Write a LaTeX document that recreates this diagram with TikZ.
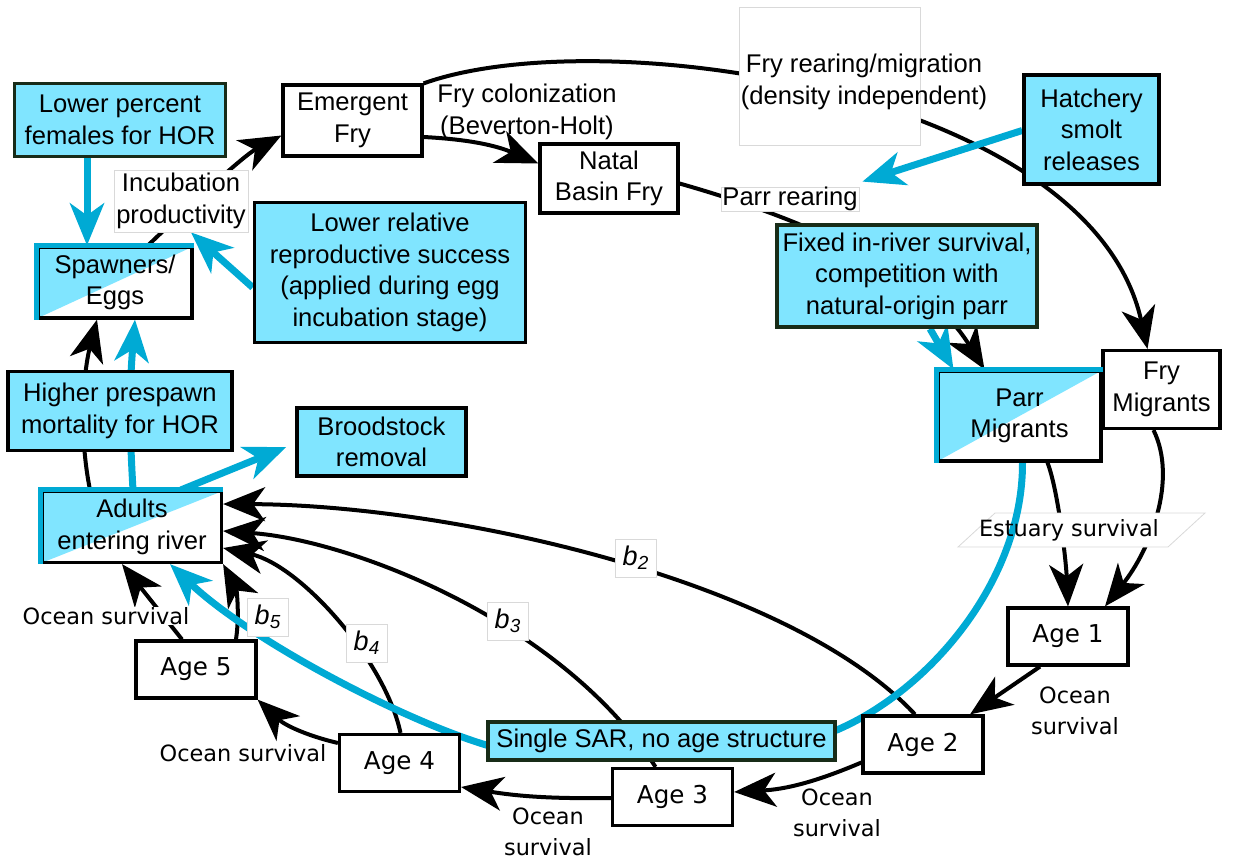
\documentclass[tikz,border=0pt]{standalone}
\usepackage{fontspec}
\setmainfont{Liberation Sans}
\newfontfamily\agefont{DejaVu Sans}
\usetikzlibrary{arrows.meta,calc}
\definecolor{boxcyan}{RGB}{128,229,255}
\definecolor{linecyan}{RGB}{0,170,212}
\definecolor{boxedge}{RGB}{24,44,24}
\pgfdeclarelayer{bg}
\pgfdeclarelayer{mid}
\pgfsetlayers{bg,mid,main}

\begin{document}
\begin{tikzpicture}[x=0.5pt,y=-0.5pt,>={Stealth[length=21pt,width=17pt,inset=6pt]},
        every node/.style={font=\fontsize{12.8}{15.8}\selectfont,align=center,inner sep=0pt},
        wbox/.style={draw,line width=1.6pt,fill=white},
        cbox/.style={draw=boxedge,line width=1.8pt,fill=boxcyan},
        hbox/.style={wbox,path picture={\fill[boxcyan] (path picture bounding box.north west)
            -- (path picture bounding box.north east) -- (path picture bounding box.south west) -- cycle;}},
        agebox/.style={wbox,minimum width=60pt,minimum height=28.5pt,font=\agefont\fontsize{12.3}{15}\selectfont},
        lab/.style={draw=black!15,line width=0.4pt,fill=white},
        oc/.style={font=\agefont\fontsize{11.2}{15.5}\selectfont},
        bl/.style={lab,inner sep=3.5pt,font=\fontsize{13.5}{15}\selectfont\itshape},
        flow/.style={->,line width=2pt},
        hflow/.style={->,line width=3.5pt,draw=linecyan},
        hedge/.style={line width=2.5pt,draw=linecyan}]
      \useasboundingbox (0,0) rectangle (1238,858);
      % freshwater part
      \node[cbox,minimum width=105.5pt,minimum height=36.5pt] (lowpct) at (120,120) {Lower percent\\females for HOR};
      \node[wbox,minimum width=69.5pt,minimum height=35.5pt] (emfry) at (352.5,120.5) {Emergent\\Fry};
      \node[wbox,minimum width=69pt,minimum height=34.5pt] (natal) at (609,178.5) {Natal\\Basin Fry};
      \node (frycol) at (527,112) {Fry colonization\\(Beverton-Holt)};
      \node[lab,minimum width=90.5pt,minimum height=69pt] (fryrear) at (829.5,76) {};
      \node (fryreartxt) at (864,82) {Fry rearing/migration\\(density independent)};
      \node[cbox,draw=black,minimum width=67.5pt,minimum height=54.5pt] (hatch) at (1091.5,129.5) {Hatchery\\smolt\\releases};
      \node[lab,minimum width=67pt,minimum height=31pt] (incub) at (181,201) {Incubation\\productivity};
      \node[cbox,draw=black,minimum width=135.5pt,minimum height=70pt] (lowrrs) at (390,272.5)
        {Lower relative\\reproductive success\\(applied during egg\\incubation stage)};
      \node[hbox,minimum width=77pt,minimum height=35.5pt] (spawn) at (115,282.5) {Spawners/\\Eggs};
      \node[lab,minimum width=69pt,minimum height=12pt] (parrrear) at (790,199) {Parr rearing};
      \node[cbox,minimum width=130pt,minimum height=51pt] (fixed) at (907,276)
        {Fixed in-river survival,\\competition with\\natural-origin parr};
      \node[hbox,minimum width=81.5pt,minimum height=45pt] (parrmig) at (1019.5,416) {Parr\\Migrants};
      \node[wbox,minimum width=58.5pt,minimum height=39pt] (frymig) at (1161.5,389.5) {Fry\\Migrants};
      \node[cbox,draw=black,minimum width=112pt,minimum height=39.5pt] (prespawn) at (120,411) {Higher prespawn\\mortality for HOR};
      \node[cbox,draw=black,minimum width=84.5pt,minimum height=34pt] (brood) at (381.5,442) {Broodstock\\removal};
      \node[hbox,minimum width=89.5pt,minimum height=35.5pt] (adults) at (132,527) {Adults\\entering river};
      \node[oc] (est) at (1069,530) {Estuary survival};
      % ocean part
      \node[agebox] (age1) at (1068,636.5) {Age 1};
      \node[agebox] (age2) at (923,744.5) {Age 2};
      \node[agebox] (age3) at (672.5,797) {Age 3};
      \node[agebox] (age4) at (399.5,763) {Age 4};
      \node[agebox] (age5) at (196,669.5) {Age 5};
      \node[cbox,minimum width=173.5pt,minimum height=19pt] (sar) at (661.5,741) {Single SAR, no age structure};
      \node[oc] (oc1) at (1075,711) {Ocean\\survival};
      \node[oc] (oc2) at (837,813) {Ocean\\survival};
      \node[oc] (oc3) at (548,832) {Ocean\\survival};
      \node[oc] (oc4) at (243,753) {Ocean survival};
      \node[oc,fill=white] (oc5) at (106,616) {Ocean survival};
      \node[bl] (b2) at (636,558) {b\textsubscript{2}};
      \node[bl] (b3) at (508,621) {b\textsubscript{3}};
      \node[bl] (b4) at (367,643) {b\textsubscript{4}};
      \node[bl] (b5) at (268,617) {b\textsubscript{5}};
      \foreach \n in {spawn,parrmig,adults}
        \draw[hedge] (\n.south west) -- (\n.north west) -- (\n.north east);

      \begin{pgfonlayer}{bg}
      \draw[flow] ($(spawn.north)+(33,0)$) .. controls (188,207) and (243,156) .. ($(emfry.west)+(0,15)$);
      \draw[flow] ($(emfry.east)+(0,16.5)$) to[bend left=10] ($(natal.west)+(0,-15)$);
      \draw[flow] (emfry.north east) .. controls (600,20) and (1090,90) .. ($(frymig.north)+(-14,0)$);
      \draw[flow] ($(natal.east)+(0,5)$) .. controls (783,213) and (918,263) .. ($(parrmig.north)+(-35,0)$);
      \draw[flow] ($(adults.north)+(-42,0)$) .. controls (78,430) and (84,370) .. ($(spawn.south)+(-18,0)$);
      \draw[flow] ($(parrmig.south)+(28,0)$) .. controls (1058,490) and (1066,560) .. (age1.north);
      \draw[flow] ($(frymig.south)+(-8,0)$) .. controls (1178,480) and (1150,550) .. ($(age1.north)+(37,0)$);
      \draw[flow] ($(age1.south)+(-28,0)$) -- ($(age2.north)+(47,0)$);
      \draw[flow] ($(age2.west)+(0,18)$) to[bend left=10] ($(age3.east)+(0,-5)$);
      \draw[flow] ($(age3.west)+(0,1)$) to[bend left=5] ($(age4.east)+(0,24)$);
      \draw[flow] ($(age4.west)+(0,-20)$) to[bend left=15] (age5.south east);
      \draw[flow] ($(age5.north)+(-14,0)$) -- ($(adults.south)+(-10,0)$);
      \draw[flow] ($(age5.north)+(40,0)$) .. controls (240,612) and (236,588) .. (adults.south east);
      \draw[flow] ($(age4.north)+(1,0)$) .. controls (385,660) and (300,565) .. ($(adults.east)+(0,21)$);
      \draw[flow] ($(age3.north)+(-17,0)$) .. controls (560,620) and (350,540) .. ($(adults.east)+(0,4)$);
      \draw[flow] ($(age2.north)+(-8,0)$) .. controls (790,580) and (450,505) .. ($(adults.east)+(0,-23)$);
      \end{pgfonlayer}

      \begin{pgfonlayer}{mid}
      \filldraw[lab] ($(est)+(-74,-17)$) -- ($(est)+(136,-17)$) -- ($(est)+(99,17)$) -- ($(est)+(-111,17)$) -- cycle;
      \draw[hflow] ($(lowpct.south)+(-33,0)$) -- ($(spawn.north)+(-28,0)$);
      \draw[hflow] ($(lowrrs.west)+(0,15)$) -- ($(incub.south)+(10,0)$);
      \draw[hflow] ($(adults.north)+(1,0)$) to[bend left=4] ($(spawn.south)+(20,0)$);
      \draw[hflow] ($(adults.north)+(49,0)$) -- ($(brood.west)+(-9,5)$);
      \draw[hflow] ($(hatch.west)+(0,1)$) -- ($(parrrear.north east)+(3,-5)$);
      \draw[hflow] ($(fixed.south)+(23,0)$) -- ($(parrmig.north)+(-66,0)$);
      \draw[hflow] ($(parrmig.south)+(3,0)$) .. controls (1023,580) and (930,690) .. ($(sar.east)+(0,-11)$)
        -- ($(sar.west)+(0,4)$) .. controls (400,719) and (250,640) .. ($(adults.south)+(38,0)$);
      \end{pgfonlayer}
    \end{tikzpicture}
\end{document}
